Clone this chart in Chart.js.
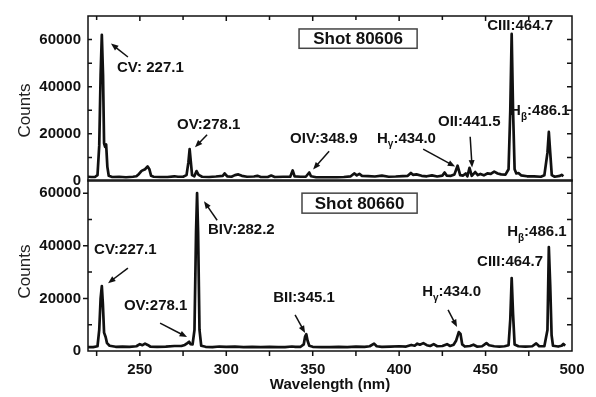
<!DOCTYPE html>
<html>
<head>
<meta charset="utf-8">
<script src="https://cdn.jsdelivr.net/npm/chart.js@4.4.0/dist/chart.umd.min.js"></script>
<style>
  body { margin: 0; background: #fff; }
  #wrap { position: relative; width: 596px; height: 397px; }
  canvas { position: absolute; left: 0; top: 0; }
</style>
</head>
<body>
<div id="wrap">
  <canvas id="bottomChart" width="596" height="397"></canvas>
  <canvas id="topChart" width="596" height="397"></canvas>
</div>
<script>
// spectrum, shot 80606 (wavelength nm / counts)
const wl80606 = [
  220, 222, 224, 225.5, 226.5, 227.3, 228, 228.7, 229.3, 229.9,
  230.5, 231.2, 232, 234, 238, 242, 246, 248, 249.5, 251,
  253, 254.5, 255.5, 256.5, 258, 262, 266, 270, 272, 275,
  277, 278.1, 278.8, 279.5, 280.2, 281.5, 282.8, 284, 286, 290,
  294, 298, 299, 300.5, 303, 305, 307, 309, 312, 316,
  318, 320, 324, 326, 328, 333, 337, 338.4, 339.5, 343,
  346, 348, 349, 352, 356, 360, 364, 368, 372, 374,
  375.5, 377, 378.5, 382, 386, 390, 394, 398, 402, 405,
  406.8, 408, 410, 413, 416, 419, 422, 425, 426.3, 427.5,
  430, 432, 433.8, 435.3, 437, 438.5, 439.5, 440.7, 442, 444,
  445.5, 447, 449, 451, 453, 455, 457, 459, 461.5, 463.3,
  464.3, 465.1, 465.9, 466.8, 467.8, 469, 470.5, 474, 478, 482,
  484, 485.8, 486.6, 487.4, 488.3, 490, 493, 494, 495
];
const counts80606 = [
  1800, 1700, 1700, 2500, 15000, 45000, 62000, 45000, 16000, 14500,
  15500, 6000, 2200, 1700, 1800, 1600, 1800, 2000, 3000, 4300,
  5000, 6200, 5000, 2200, 1800, 1700, 1700, 2000, 1800, 1800,
  2500, 8000, 13500, 8000, 2500, 2000, 4200, 2600, 1800, 1700,
  1900, 2200, 3200, 2000, 1800, 2500, 2800, 2200, 1800, 1900,
  2200, 1700, 1700, 2300, 1700, 1800, 1800, 4500, 2000, 1800,
  1800, 3600, 2000, 1600, 1600, 1600, 1600, 1700, 2000, 3200,
  2400, 3000, 2200, 2100, 1900, 2300, 1800, 1900, 2100, 2200,
  3400, 2600, 2800, 2200, 2000, 2400, 1900, 2300, 3600, 2300,
  2200, 2800, 6500, 2500, 2300, 3200, 2000, 5600, 2200, 3800,
  2500, 3000, 2400, 3200, 3000, 4000, 3200, 2800, 2700, 5000,
  30000, 62400, 30000, 5000, 3200, 3400, 2400, 2000, 2000, 1800,
  2400, 12000, 20800, 12000, 2500, 1800, 2200, 2600, 2000
];

// spectrum, shot 80660
const wl80660 = [
  220, 223, 225.5, 226.5, 227.3, 228, 228.6, 229.3, 230.2, 231,
  232.5, 236, 240, 244, 248, 250, 251.5, 253, 254.5, 256,
  260, 265, 270, 274, 276, 277.5, 278.5, 279.3, 280.5, 281.6,
  282.5, 283.1, 283.7, 284.5, 285.5, 288, 292, 296, 300, 305,
  310, 315, 320, 325, 330, 334, 338, 340, 343, 344.8,
  345.6, 346.3, 347, 348, 350, 355, 360, 365, 370, 375,
  380, 383, 385.5, 387, 390, 395, 400, 404, 407, 409,
  410.5, 412, 414, 416, 418, 420, 422, 425, 427.7, 429.5,
  431.5, 433, 434.5, 435.5, 436.5, 438, 441, 443, 445, 448,
  450.5, 452, 455, 458, 461, 463.3, 464.3, 465.1, 465.9, 466.8,
  469, 473, 477, 479.3, 481, 484, 485.8, 486.6, 487.4, 488.2,
  489, 492, 494, 495, 496
];
const counts80660 = [
  1500, 1500, 1800, 8000, 20000, 24700, 18000, 7000, 5300, 3000,
  2000, 1600, 1700, 1600, 1800, 2600, 2200, 2800, 2300, 1700,
  1600, 1700, 1900, 1900, 2300, 3000, 3500, 2600, 2500, 8000,
  45000, 60000, 45000, 8000, 2000, 1600, 1500, 1700, 1600, 1700,
  1500, 1600, 1500, 1600, 1500, 1500, 1700, 1600, 1600, 2500,
  5500, 6400, 4000, 2000, 1600, 1500, 1500, 1600, 1500, 1700,
  1600, 1800, 2800, 1800, 1600, 1700, 1800, 1700, 2300, 2000,
  2800, 2400, 3000, 2200, 1900, 2600, 1800, 1900, 2600, 1900,
  2400, 4000, 7200, 6500, 2500, 1700, 1900, 2400, 1700, 1800,
  3000, 2200, 1800, 1700, 1800, 2200, 12000, 27700, 14000, 2500,
  1800, 1700, 1800, 2900, 1800, 1800, 8000, 39500, 25000, 6000,
  2000, 1700, 2000, 2700, 2000
];

// axis ticks
const xTicks = [225, 250, 275, 300, 325, 350, 375, 400, 425, 450, 475, 500];
const yTicksTop = [0, 10000, 20000, 30000, 40000, 50000, 60000, 70000];
const yTicksBottom = [0, 10000, 20000, 30000, 40000, 50000, 60000];

// line labels: text, wavelength, counts ("_" = next char is subscript)
const notesTop = [
  { text: "CV: 227.1", x: 236.8, y: 48100 },
  { text: "OV:278.1", x: 271.5, y: 23700 },
  { text: "OIV:348.9", x: 336.9, y: 18000 },
  { text: "H_γ:434.0", x: 387.2, y: 18000 },
  { text: "OII:441.5", x: 422.5, y: 24900 },
  { text: "CIII:464.7", x: 450.9, y: 65700 },
  { text: "H_β:486.1", x: 464.2, y: 29800 },
];
const arrowsTop = [
  [243.1, 52600, 233.3, 58300],
  [288.9, 19600, 281.9, 14300],
  [359.5, 12600, 350.2, 4900],
  [413.9, 13500, 432.4, 6100],
  [441.1, 18800, 442.2, 5700],
];
const notesBottom = [
  { text: "BIV:282.2", x: 289.4, y: 45900 },
  { text: "CV:227.1", x: 223.5, y: 38300 },
  { text: "OV:278.1", x: 240.8, y: 17100 },
  { text: "BII:345.1", x: 327.1, y: 20100 },
  { text: "H_γ:434.0", x: 413.3, y: 22400 },
  { text: "CIII:464.7", x: 445.1, y: 33800 },
  { text: "H_β:486.1", x: 462.5, y: 45200 },
];
const arrowsBottom = [
  [294.7, 49700, 287.1, 56900],
  [243.1, 31500, 231.6, 25800],
  [261.7, 10600, 277.3, 5300],
  [339.8, 13700, 345.6, 6800],
  [428.3, 15600, 433.5, 9100],
];

const FONT = "'Liberation Sans', Arial, Helvetica, sans-serif";
Chart.defaults.font.family = FONT;
Chart.defaults.color = "#111";

function toPoints(xs, ys) {
  return xs.map((x, i) => ({ x: x, y: ys[i] }));
}

function drawNote(ctx, x, y, text) {
  ctx.textAlign = "left";
  ctx.textBaseline = "middle";
  ctx.font = "bold 15px " + FONT;
  const parts = text.split("_");
  if (parts.length === 1) {
    ctx.fillText(text, x, y);
    return;
  }
  ctx.fillText(parts[0], x, y);
  let cx = x + ctx.measureText(parts[0]).width;
  const sub = parts[1][0];
  const rest = parts[1].slice(1);
  ctx.font = "bold 10px " + FONT;
  ctx.fillText(sub, cx, y + 6);
  cx += ctx.measureText(sub).width;
  ctx.font = "bold 15px " + FONT;
  ctx.fillText(rest, cx, y);
}

function drawArrow(ctx, x1, y1, x2, y2) {
  const ang = Math.atan2(y2 - y1, x2 - x1);
  const head = 8;
  ctx.beginPath();
  ctx.moveTo(x1, y1);
  ctx.lineTo(x2 - head * 0.7 * Math.cos(ang), y2 - head * 0.7 * Math.sin(ang));
  ctx.stroke();
  ctx.beginPath();
  ctx.moveTo(x2, y2);
  ctx.lineTo(x2 - head * Math.cos(ang - 0.38), y2 - head * Math.sin(ang - 0.38));
  ctx.lineTo(x2 - head * Math.cos(ang + 0.38), y2 - head * Math.sin(ang + 0.38));
  ctx.closePath();
  ctx.fill();
}

// frame, tick marks, labels, arrows, shot box
const panelPlugin = {
  id: "panel",
  afterDraw(chart, args, opts) {
    const { ctx, chartArea: a, scales } = chart;
    const xs = scales.x;
    const ys = scales.y;
    ctx.save();
    ctx.strokeStyle = "#111";
    ctx.fillStyle = "#111";
    ctx.lineWidth = 1.5;
    ctx.strokeRect(a.left, a.top, a.right - a.left, a.bottom - a.top);

    ctx.beginPath();
    xTicks.forEach((v) => {
      const px = xs.getPixelForValue(v);
      if (px >= a.right - 1) return;
      if (opts.topTicks) {
        ctx.moveTo(px, a.top);
        ctx.lineTo(px, a.top + (v % 50 === 0 ? 5 : 4));
      }
      if (opts.bottomTicks) {
        ctx.moveTo(px, a.bottom);
        ctx.lineTo(px, a.bottom + 5);
      }
    });
    opts.yTicks.forEach((v) => {
      const py = ys.getPixelForValue(v);
      if (py >= a.bottom - 1 || py <= a.top + 1) return;
      ctx.moveTo(a.right, py);
      ctx.lineTo(a.right - 5, py);
      if (opts.leftOut && v % 20000 === 0) {
        ctx.moveTo(a.left, py);
        ctx.lineTo(a.left - 5, py);
      } else {
        ctx.moveTo(a.left, py);
        ctx.lineTo(a.left + 4, py);
      }
    });
    ctx.stroke();

    // y title
    ctx.save();
    ctx.translate(25, (a.top + a.bottom) / 2 + opts.titleShift);
    ctx.rotate(-Math.PI / 2);
    ctx.font = "17px " + FONT;
    ctx.textAlign = "center";
    ctx.textBaseline = "middle";
    ctx.fillStyle = "#222";
    ctx.fillText("Counts", 0, 0);
    ctx.restore();

    // line labels
    opts.notes.forEach((n) => {
      drawNote(ctx, xs.getPixelForValue(n.x), ys.getPixelForValue(n.y), n.text);
    });
    ctx.lineWidth = 1.5;
    opts.arrows.forEach((r) => {
      drawArrow(ctx,
        xs.getPixelForValue(r[0]), ys.getPixelForValue(r[1]),
        xs.getPixelForValue(r[2]), ys.getPixelForValue(r[3]));
    });

    // shot box
    const b = opts.box;
    const bx1 = xs.getPixelForValue(b.x1);
    const bx2 = xs.getPixelForValue(b.x2);
    const by1 = ys.getPixelForValue(b.y1);
    const by2 = ys.getPixelForValue(b.y2);
    ctx.fillStyle = "#fff";
    ctx.fillRect(bx1, by1, bx2 - bx1, by2 - by1);
    ctx.strokeStyle = "#444";
    ctx.lineWidth = 1.5;
    ctx.strokeRect(bx1, by1, bx2 - bx1, by2 - by1);
    ctx.fillStyle = "#111";
    ctx.font = "bold 17px " + FONT;
    ctx.textAlign = "center";
    ctx.textBaseline = "middle";
    ctx.fillText(b.text, (bx1 + bx2) / 2, (by1 + by2) / 2 + 1);
    ctx.restore();
  },
};

function yLabel(v) {
  return v % 20000 === 0 ? String(v) : "";
}

function spectrumDataset(xs, ys) {
  return {
    data: toPoints(xs, ys),
    borderColor: "#111",
    borderWidth: 2.7,
    pointRadius: 0,
    tension: 0,
    borderJoinStyle: "round",
    fill: false,
  };
}

//top panel
const topChart = new Chart(document.getElementById("topChart").getContext("2d"), {
  type: "line",
  data: { datasets: [spectrumDataset(wl80606, counts80606)] },
  options: {
    responsive: false,
    animation: false,
    devicePixelRatio: 1,
    layout: { padding: { top: 9, bottom: 216, right: 24, left: 0 } },
    plugins: {
      legend: { display: false },
      tooltip: { enabled: false },
      panel: {
        topTicks: true, bottomTicks: false, leftOut: false,
        yTicks: yTicksTop, titleShift: 12,
        notes: notesTop, arrows: arrowsTop,
        box: { text: "Shot 80606", x1: 342.1, x2: 410.4, y1: 64500, y2: 56300 },
      },
    },
    scales: {
      x: { type: "linear", min: 220, max: 500, display: false },
      y: {
        min: 0, max: 70000,
        afterBuildTicks: (s) => { s.ticks = yTicksTop.map((v) => ({ value: v })); },
        afterFit: (s) => { s.width = 88; },
        grid: { display: false, drawTicks: false },
        border: { display: false },
        ticks: {
          padding: 7, autoSkip: false, color: "#111",
          font: { size: 15, weight: "bold" },
          callback: yLabel,
        },
      },
    },
  },
  plugins: [panelPlugin],
});

//bottom panel
const bottomChart = new Chart(document.getElementById("bottomChart").getContext("2d"), {
  type: "line",
  data: { datasets: [spectrumDataset(wl80660, counts80660)] },
  options: {
    responsive: false,
    animation: false,
    devicePixelRatio: 1,
    layout: { padding: { top: 180, bottom: 0, right: 24, left: 0 } },
    plugins: {
      legend: { display: false },
      tooltip: { enabled: false },
      panel: {
        topTicks: false, bottomTicks: true, leftOut: true,
        yTicks: yTicksBottom, titleShift: 6,
        notes: notesBottom, arrows: arrowsBottom,
        box: { text: "Shot 80660", x1: 343.8, x2: 410.4, y1: 60000, y2: 52400 },
      },
    },
    scales: {
      x: {
        type: "linear", min: 220, max: 500,
        afterBuildTicks: (s) => { s.ticks = xTicks.map((v) => ({ value: v })); },
        afterFit: (s) => { s.height = 46; },
        grid: { display: false, drawTicks: false },
        border: { display: false },
        ticks: {
          padding: 10, autoSkip: false, maxRotation: 0, color: "#111",
          font: { size: 15, weight: "bold" },
          callback: (v) => (v % 50 === 0 ? String(v) : ""),
        },
        title: {
          display: true, text: "Wavelength (nm)", color: "#111",
          font: { size: 15, weight: "bold" },
          padding: { top: 0, bottom: 3 },
        },
      },
      y: {
        min: 0, max: 65000,
        afterBuildTicks: (s) => { s.ticks = yTicksBottom.map((v) => ({ value: v })); },
        afterFit: (s) => { s.width = 88; },
        grid: { display: false, drawTicks: false },
        border: { display: false },
        ticks: {
          padding: 7, autoSkip: false, color: "#111",
          font: { size: 15, weight: "bold" },
          callback: yLabel,
        },
      },
    },
  },
  plugins: [panelPlugin],
});
</script>
</body>
</html>
